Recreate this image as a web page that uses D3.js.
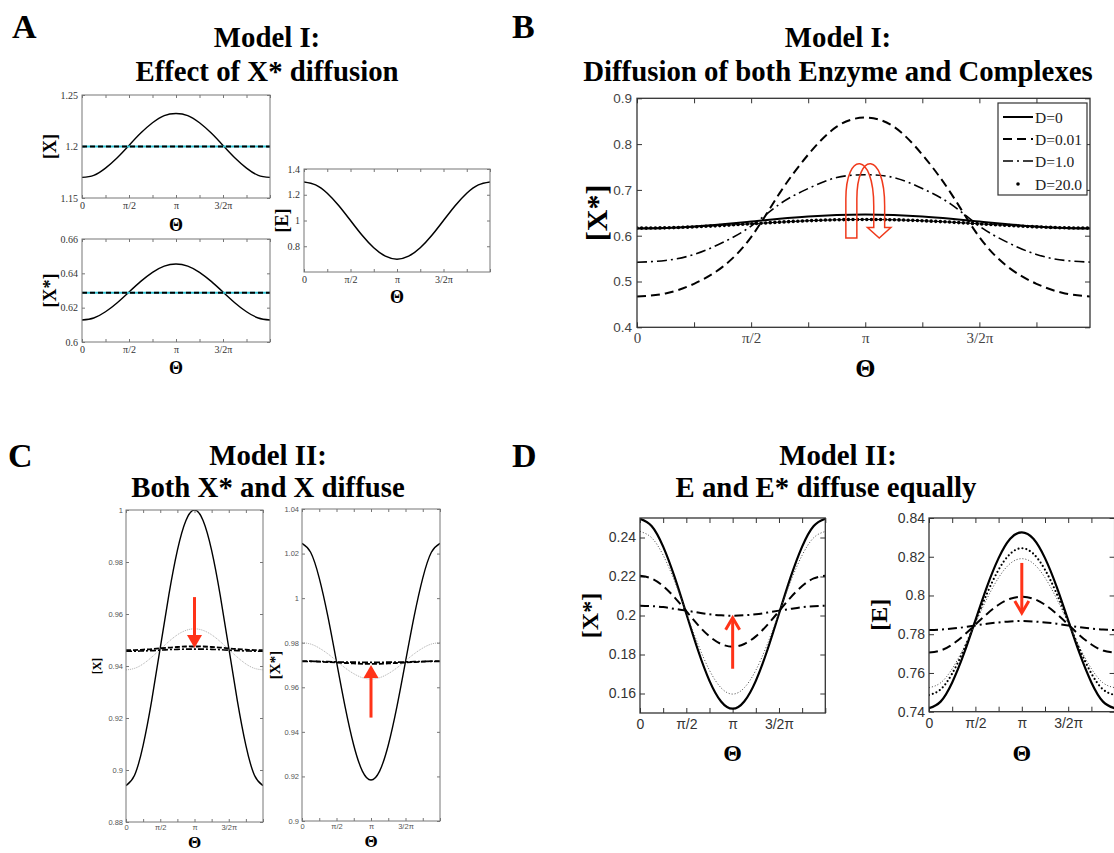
<!DOCTYPE html>
<html>
<head>
<meta charset="utf-8">
<script src="https://cdn.jsdelivr.net/npm/d3@7/dist/d3.min.js"></script>
<style>
  html, body { margin: 0; padding: 0; background: #fff; }
  svg { display: block; }
</style>
</head>
<body>
<svg id="fig" width="1114" height="853"></svg>
<script>
const PI = Math.PI;

// Angular grid: 0 .. 2π in steps of π/8
const theta = d3.range(17).map(i => i * PI / 8);
const thetaTicks = d3.range(9).map(i => i * PI / 4);
const thetaTickLabels = ["0", "", "π/2", "", "π", "", "3/2π", "", ""];

// ---- Panel A: Model I, effect of X* diffusion ----
const aXNoDiff  = [1.170, 1.172, 1.179, 1.189, 1.201, 1.213, 1.223, 1.230, 1.232, 1.230, 1.223, 1.213, 1.201, 1.189, 1.179, 1.172, 1.170];
const aXDiff    = [1.200, 1.200, 1.200, 1.200, 1.200, 1.200, 1.200, 1.200, 1.200, 1.200, 1.200, 1.200, 1.200, 1.200, 1.200, 1.200, 1.200];
const aXsNoDiff = [0.6128, 0.6140, 0.6176, 0.6229, 0.6291, 0.6353, 0.6406, 0.6442, 0.6454, 0.6442, 0.6406, 0.6353, 0.6291, 0.6229, 0.6176, 0.6140, 0.6128];
const aXsDiff   = [0.6287, 0.6287, 0.6287, 0.6287, 0.6287, 0.6287, 0.6287, 0.6287, 0.6287, 0.6287, 0.6287, 0.6287, 0.6287, 0.6287, 0.6287, 0.6287, 0.6287];
const aE        = [1.300, 1.277, 1.212, 1.115, 1.000, 0.885, 0.788, 0.723, 0.700, 0.723, 0.788, 0.885, 1.000, 1.115, 1.212, 1.277, 1.300];
const aXTicks  = [1.15, 1.2, 1.25];
const aXsTicks = [0.6, 0.62, 0.64, 0.66];
const aETicks  = [0.8, 1, 1.2, 1.4];

// ---- Panel B: Model I, diffusion of enzyme and complexes ----
const bLabels = ["D=0", "D=0.01", "D=1.0", "D=20.0"];
const bD0   = [0.6155, 0.6167, 0.6200, 0.6251, 0.6310, 0.6369, 0.6420, 0.6453, 0.6465, 0.6453, 0.6420, 0.6369, 0.6310, 0.6251, 0.6200, 0.6167, 0.6155];
const bD001 = [0.467, 0.474, 0.495, 0.532, 0.597, 0.693, 0.777, 0.838, 0.858, 0.838, 0.777, 0.693, 0.597, 0.532, 0.495, 0.474, 0.467];
const bD1   = [0.542, 0.546, 0.559, 0.585, 0.621, 0.669, 0.703, 0.727, 0.733, 0.727, 0.703, 0.669, 0.621, 0.585, 0.559, 0.546, 0.542];
const bD20  = [0.6165, 0.6172, 0.6193, 0.6224, 0.6260, 0.6296, 0.6327, 0.6348, 0.6355, 0.6348, 0.6327, 0.6296, 0.6260, 0.6224, 0.6193, 0.6172, 0.6165];
const bTicks = [0.4, 0.5, 0.6, 0.7, 0.8, 0.9];

// ---- Panel C: Model II, both X* and X diffuse ----
const cXSolid   = [0.894, 0.898, 0.9095, 0.9267, 0.947, 0.9673, 0.9845, 0.996, 1.0, 0.996, 0.9845, 0.9673, 0.947, 0.9267, 0.9095, 0.898, 0.894];
const cXDotted  = [0.9385, 0.9391, 0.9408, 0.9434, 0.9464, 0.9494, 0.9520, 0.9537, 0.9543, 0.9537, 0.9520, 0.9494, 0.9464, 0.9434, 0.9408, 0.9391, 0.9385];
const cXDashed  = [0.9461, 0.9461, 0.9463, 0.9465, 0.9468, 0.9471, 0.9473, 0.9475, 0.9475, 0.9475, 0.9473, 0.9471, 0.9468, 0.9465, 0.9463, 0.9461, 0.9461];
const cXDashDot = [0.9457, 0.9457, 0.9458, 0.9459, 0.9461, 0.9463, 0.9464, 0.9465, 0.9465, 0.9465, 0.9464, 0.9463, 0.9461, 0.9459, 0.9458, 0.9457, 0.9457];
const cXsSolid   = [1.0246, 1.0206, 1.0090, 0.9918, 0.9715, 0.9512, 0.9340, 0.9224, 0.9184, 0.9224, 0.9340, 0.9512, 0.9715, 0.9918, 1.0090, 1.0206, 1.0246];
const cXsDotted  = [0.9800, 0.9794, 0.9776, 0.9750, 0.9719, 0.9687, 0.9661, 0.9643, 0.9637, 0.9643, 0.9661, 0.9687, 0.9719, 0.9750, 0.9776, 0.9794, 0.9800];
const cXsDashed  = [0.9717, 0.9717, 0.9715, 0.9713, 0.9711, 0.9709, 0.9707, 0.9705, 0.9705, 0.9705, 0.9707, 0.9709, 0.9711, 0.9713, 0.9715, 0.9717, 0.9717];
const cXsDashDot = [0.9716, 0.9716, 0.9716, 0.9715, 0.9714, 0.9713, 0.9713, 0.9712, 0.9712, 0.9712, 0.9713, 0.9713, 0.9714, 0.9715, 0.9716, 0.9716, 0.9716];
const cXTicks  = [0.88, 0.9, 0.92, 0.94, 0.96, 0.98, 1];
const cXsTicks = [0.9, 0.92, 0.94, 0.96, 0.98, 1, 1.02, 1.04];

// ---- Panel D: Model II, E and E* diffuse equally ----
const dXsSolid   = [0.2496, 0.2459, 0.2353, 0.2195, 0.2009, 0.1823, 0.1665, 0.1559, 0.1522, 0.1559, 0.1665, 0.1823, 0.2009, 0.2195, 0.2353, 0.2459, 0.2496];
const dXsDotted  = [0.2431, 0.2399, 0.2309, 0.2174, 0.2014, 0.1854, 0.1719, 0.1629, 0.1597, 0.1629, 0.1719, 0.1854, 0.2014, 0.2174, 0.2309, 0.2399, 0.2431];
const dXsDashed  = [0.2204, 0.2190, 0.2151, 0.2092, 0.2022, 0.1952, 0.1893, 0.1854, 0.1840, 0.1854, 0.1893, 0.1952, 0.2022, 0.2092, 0.2151, 0.2190, 0.2204];
const dXsDashDot = [0.2050, 0.2048, 0.2043, 0.2034, 0.2025, 0.2015, 0.2006, 0.2001, 0.1999, 0.2001, 0.2006, 0.2015, 0.2025, 0.2034, 0.2043, 0.2048, 0.2050];
const dESolid    = [0.7418, 0.7452, 0.7551, 0.7698, 0.7872, 0.8046, 0.8193, 0.8293, 0.8326, 0.8293, 0.8193, 0.8046, 0.7872, 0.7698, 0.7551, 0.7452, 0.7418];
const dEBoldDot  = [0.7486, 0.7515, 0.7597, 0.7720, 0.7865, 0.8010, 0.8133, 0.8215, 0.8244, 0.8215, 0.8133, 0.8010, 0.7865, 0.7720, 0.7597, 0.7515, 0.7486];
const dEThinDot  = [0.7524, 0.7549, 0.7622, 0.7730, 0.7857, 0.7984, 0.8092, 0.8165, 0.8190, 0.8165, 0.8092, 0.7984, 0.7857, 0.7730, 0.7622, 0.7549, 0.7524];
const dEDashed   = [0.7705, 0.7716, 0.7747, 0.7794, 0.7850, 0.7905, 0.7952, 0.7983, 0.7994, 0.7983, 0.7952, 0.7905, 0.7850, 0.7794, 0.7747, 0.7716, 0.7705];
const dEDashDot  = [0.7822, 0.7824, 0.7829, 0.7836, 0.7845, 0.7854, 0.7861, 0.7866, 0.7868, 0.7866, 0.7861, 0.7854, 0.7845, 0.7836, 0.7829, 0.7824, 0.7822];
const dXsTicks = [0.16, 0.18, 0.2, 0.22, 0.24];
const dETicks  = [0.74, 0.76, 0.78, 0.8, 0.82, 0.84];

// ------------------------------------------------------------------
const SERIF = "'Liberation Serif', 'Times New Roman', serif";
const SANS  = "'Liberation Sans', Arial, sans-serif";
const RED = "#ff3318";

const svg = d3.select("#fig");
svg.append("rect").attr("width", 1114).attr("height", 853).attr("fill", "#fff");
const defs = svg.append("defs");
let clipSeq = 0;

const thetaFmt = d => thetaTickLabels[Math.round(d / (PI / 4))];

function drawPlot(cfg) {
  const g = svg.append("g");
  const x = d3.scaleLinear().domain([0, 2 * PI]).range([cfg.left, cfg.right2pi ?? cfg.right]);
  const y = d3.scaleLinear().domain(cfg.yDomain).range([cfg.bottom, cfg.top]);
  const tk = cfg.tick;

  const id = "plotclip" + (clipSeq++);
  defs.append("clipPath").attr("id", id).append("rect")
    .attr("x", cfg.left).attr("y", cfg.top)
    .attr("width", cfg.right - cfg.left).attr("height", cfg.bottom - cfg.top);

  const xt = thetaTicks.filter(t => x(t) <= cfg.right + 1);
  const axes = [
    g.append("g").attr("transform", `translate(0,${cfg.bottom})`)
      .call(d3.axisBottom(x).tickValues(xt).tickSize(-tk.len).tickPadding(tk.xPad).tickFormat(thetaFmt)),
    g.append("g").attr("transform", `translate(0,${cfg.top})`)
      .call(d3.axisTop(x).tickValues(xt).tickSize(-tk.len).tickFormat("")),
    g.append("g").attr("transform", `translate(${cfg.left},0)`)
      .call(d3.axisLeft(y).tickValues(cfg.yTicks).tickSize(-tk.len).tickPadding(tk.yPad).tickFormat(d3.format("~g"))),
    g.append("g").attr("transform", `translate(${cfg.right},0)`)
      .call(d3.axisRight(y).tickValues(cfg.yTicks).tickSize(-tk.len).tickFormat(""))
  ];
  axes.forEach(a => {
    a.select(".domain").remove();
    a.selectAll(".tick line").attr("stroke", cfg.frameColor).attr("stroke-width", 1);
    a.selectAll("text").attr("font-family", tk.font).attr("font-size", tk.size).attr("fill", tk.color);
  });
  if (tk.xFont) axes[0].selectAll("text").attr("font-family", tk.xFont).attr("font-size", tk.xSize);

  const area = g.append("g").attr("clip-path", `url(#${id})`);
  const line = d3.line().x((d, i) => x(theta[i])).y(d => y(d)).curve(d3.curveNatural);
  cfg.series.forEach(s => {
    area.append("path").datum(s.values)
      .attr("d", line)
      .attr("fill", "none")
      .attr("stroke", s.color || "#000")
      .attr("stroke-width", s.width)
      .attr("stroke-dasharray", s.dash || null)
      .attr("stroke-linecap", s.cap || "butt");
  });

  g.append("rect")
    .attr("x", cfg.left).attr("y", cfg.top)
    .attr("width", cfg.right - cfg.left)
    .attr("height", cfg.bottom - cfg.top)
    .attr("fill", "none").attr("stroke", cfg.frameColor).attr("stroke-width", cfg.frameWidth);

  g.append("text")
    .attr("transform", `translate(${cfg.ylabel.x},${(cfg.top + cfg.bottom) / 2}) rotate(-90)`)
    .attr("text-anchor", "middle").attr("dominant-baseline", "central")
    .attr("font-family", SERIF).attr("font-weight", "bold").attr("font-size", cfg.ylabel.size)
    .text(cfg.ylabel.text);

  g.append("text")
    .attr("x", x(PI)).attr("y", cfg.thetaLabel.y)
    .attr("text-anchor", "middle").attr("dominant-baseline", "central")
    .attr("font-family", SERIF).attr("font-weight", "bold").attr("font-size", cfg.thetaLabel.size)
    .text("Θ");

  return { x, y, g };
}

function straightArrow(plot, value0, value1, kind) {
  const cx = plot.x(PI), y0 = plot.y(value0), y1 = plot.y(value1);
  const dir = Math.sign(y1 - y0);
  const g = plot.g.append("g");
  if (kind === "filled") {
    const headLen = 13, hw = 7.5;
    g.append("line").attr("x1", cx).attr("x2", cx).attr("y1", y0).attr("y2", y1 - dir * (headLen - 1))
      .attr("stroke", RED).attr("stroke-width", 3);
    g.append("path")
      .attr("d", `M${cx - hw},${y1 - dir * headLen} L${cx + hw},${y1 - dir * headLen} L${cx},${y1} Z`)
      .attr("fill", RED);
  } else {
    g.append("line").attr("x1", cx).attr("x2", cx).attr("y1", y0).attr("y2", y1 - dir * 1.5)
      .attr("stroke", RED).attr("stroke-width", 3);
    g.append("path")
      .attr("d", `M${cx - 7},${y1 - dir * 12} L${cx},${y1} L${cx + 7},${y1 - dir * 12}`)
      .attr("fill", "none").attr("stroke", RED).attr("stroke-width", 3).attr("stroke-linejoin", "miter");
  }
}

// ---------------- Panel A ----------------
const tickA = { len: 3, font: SERIF, size: 10, color: "#333", xPad: 4, yPad: 4 };
drawPlot({
  left: 82, right: 270, top: 95, bottom: 198, yDomain: [1.15, 1.25], yTicks: aXTicks,
  tick: tickA, frameColor: "#777", frameWidth: 1,
  ylabel: { text: "[X]", x: 50, size: 18 }, thetaLabel: { y: 225, size: 18 },
  series: [
    { values: aXNoDiff, width: 1.4 },
    { values: aXDiff, width: 2, color: "#33c6d6" },
    { values: aXDiff, width: 2, dash: "5,3" }
  ]
});
drawPlot({
  left: 82, right: 270, top: 239, bottom: 342, yDomain: [0.6, 0.66], yTicks: aXsTicks,
  tick: tickA, frameColor: "#777", frameWidth: 1,
  ylabel: { text: "[X*]", x: 50, size: 18 }, thetaLabel: { y: 368, size: 18 },
  series: [
    { values: aXsNoDiff, width: 1.4 },
    { values: aXsDiff, width: 2, color: "#33c6d6" },
    { values: aXsDiff, width: 2, dash: "5,3" }
  ]
});
drawPlot({
  left: 304, right: 490, top: 169, bottom: 272, yDomain: [0.6, 1.4], yTicks: aETicks,
  tick: tickA, frameColor: "#777", frameWidth: 1,
  ylabel: { text: "[E]", x: 282, size: 18 }, thetaLabel: { y: 297, size: 18 },
  series: [ { values: aE, width: 1.5 } ]
});

// ---------------- Panel B ----------------
const plotB = drawPlot({
  left: 637, right: 1090, right2pi: 1093.5, top: 98.3, bottom: 327.3, yDomain: [0.4, 0.9], yTicks: bTicks,
  tick: { len: 5, font: SANS, size: 13.5, color: "#444", xPad: 5, yPad: 5, xFont: SERIF, xSize: 15 },
  frameColor: "#333", frameWidth: 1.3,
  ylabel: { text: "[X*]", x: 596, size: 30 }, thetaLabel: { y: 368, size: 26 },
  series: [
    { values: bD0, width: 2 },
    { values: bD001, width: 2, dash: "9,5" },
    { values: bD1, width: 1.6, dash: "10,4,2,4" },
    { values: bD20, width: 1 },
    { values: bD20, width: 3.6, dash: "0,4.6", cap: "round" }
  ]
});

// U-turn arrow near the peak of panel B
(function () {
  const cx = plotB.x(PI);
  const yb = plotB.y(0.595), yl = plotB.y(0.68), ys = plotB.y(0.665), yh = plotB.y(0.618);
  const peak = plotB.y(0.757);
  const Y = (peak - 0.125 * (yl + ys)) / 0.75;
  const oL = cx - 19.4, iL = cx - 8.4, iR = cx + 8.5, oR = cx + 19.4;
  const d = `M${oL},${yb} L${oL},${yl} C${oL},${Y} ${iR},${Y} ${iR},${ys} L${iR},${yh} ` +
            `L${cx + 2.2},${yh} L${cx + 14},${yb} L${cx + 25.6},${yh} L${oR},${yh} L${oR},${ys} ` +
            `C${oR},${Y} ${iL},${Y} ${iL},${yl} L${iL},${yb} Z`;
  plotB.g.append("path").attr("d", d).attr("fill", "none")
    .attr("stroke", "#f03a1c").attr("stroke-width", 1.5).attr("stroke-linejoin", "miter");
})();

// legend of panel B
(function () {
  const lg = plotB.g.append("g");
  lg.append("rect").attr("x", 998).attr("y", 103).attr("width", 89).attr("height", 92)
    .attr("fill", "#fff").attr("stroke", "#333").attr("stroke-width", 1.2);
  const styles = [
    { dash: null, width: 2 },
    { dash: "9,5", width: 2 },
    { dash: "10,4,2,4", width: 1.6 },
    { dot: true }
  ];
  const rowY = [117, 139, 161, 184];
  bLabels.forEach((lab, i) => {
    const s = styles[i];
    if (s.dot) {
      lg.append("circle").attr("cx", 1018).attr("cy", rowY[i]).attr("r", 1.8).attr("fill", "#000");
    } else {
      lg.append("line").attr("x1", 1003).attr("x2", 1033).attr("y1", rowY[i]).attr("y2", rowY[i])
        .attr("stroke", "#000").attr("stroke-width", s.width).attr("stroke-dasharray", s.dash);
    }
    lg.append("text").attr("x", 1035).attr("y", rowY[i]).attr("dominant-baseline", "central")
      .attr("font-family", SERIF).attr("font-size", 15.5).attr("fill", "#222").text(lab);
  });
})();

// ---------------- Panel C ----------------
const tickC = { len: 3, font: SANS, size: 7.5, color: "#555", xPad: 3, yPad: 3 };
const plotC1 = drawPlot({
  left: 126, right: 263, top: 510, bottom: 822, yDomain: [0.88, 1.0], yTicks: cXTicks,
  tick: tickC, frameColor: "#777", frameWidth: 1,
  ylabel: { text: "[X]", x: 97, size: 12 }, thetaLabel: { y: 842, size: 17 },
  series: [
    { values: cXSolid, width: 1.4 },
    { values: cXDotted, width: 0.8, color: "#999", dash: "1,1" },
    { values: cXDashed, width: 1.8, dash: "5,2" },
    { values: cXDashDot, width: 1.6, dash: "6,2,2,2" }
  ]
});
straightArrow(plotC1, 0.9665, 0.9469, "filled");

const plotC2 = drawPlot({
  left: 302, right: 440, top: 509, bottom: 821, yDomain: [0.9, 1.04], yTicks: cXsTicks,
  tick: tickC, frameColor: "#777", frameWidth: 1,
  ylabel: { text: "[X*]", x: 275, size: 15 }, thetaLabel: { y: 841, size: 17 },
  series: [
    { values: cXsSolid, width: 1.4 },
    { values: cXsDotted, width: 0.8, color: "#999", dash: "1,1" },
    { values: cXsDashed, width: 1.8, dash: "5,2" },
    { values: cXsDashDot, width: 1.6, dash: "6,2,2,2" }
  ]
});
straightArrow(plotC2, 0.9464, 0.970, "filled");

// ---------------- Panel D ----------------
const tickD = { len: 5, font: SANS, size: 14, color: "#333", xPad: 6, yPad: 4 };
const plotD1 = drawPlot({
  left: 640, right: 825.3, top: 518, bottom: 713, yDomain: [0.15, 0.25], yTicks: dXsTicks,
  tick: tickD, frameColor: "#333", frameWidth: 1.3,
  ylabel: { text: "[X*]", x: 590, size: 24 }, thetaLabel: { y: 753, size: 24 },
  series: [
    { values: dXsSolid, width: 2.2 },
    { values: dXsDotted, width: 1, color: "#444", dash: "1,2" },
    { values: dXsDashed, width: 2, dash: "9,5" },
    { values: dXsDashDot, width: 2, dash: "9,4,2,4" }
  ]
});
straightArrow(plotD1, 0.1727, 0.1989, "chevron");

const plotD2 = drawPlot({
  left: 929, right: 1114.6, top: 518, bottom: 711.7, yDomain: [0.74, 0.84], yTicks: dETicks,
  tick: tickD, frameColor: "#333", frameWidth: 1.3,
  ylabel: { text: "[E]", x: 879, size: 24 }, thetaLabel: { y: 753, size: 24 },
  series: [
    { values: dESolid, width: 2.2 },
    { values: dEBoldDot, width: 2.2, dash: "0,4", cap: "round" },
    { values: dEThinDot, width: 1, color: "#444", dash: "1,2" },
    { values: dEDashed, width: 2, dash: "9,5" },
    { values: dEDashDot, width: 2, dash: "9,4,2,4" }
  ]
});
straightArrow(plotD2, 0.8168, 0.791, "chevron");

// ---------------- Panel letters and titles ----------------
const headings = [
  { letter: "A", lx: 12, ly: 38, lines: [["Model I:", 267, 47], ["Effect of X* diffusion", 267, 81]] },
  { letter: "B", lx: 512, ly: 38, lines: [["Model I:", 838, 47], ["Diffusion of both Enzyme and Complexes", 838, 81]] },
  { letter: "C", lx: 8, ly: 467, lines: [["Model II:", 268, 465], ["Both X* and X diffuse", 268, 497]] },
  { letter: "D", lx: 512, ly: 467, lines: [["Model II:", 838, 465], ["E and E* diffuse equally", 826, 497]] }
];
headings.forEach(h => {
  svg.append("text").attr("x", h.lx).attr("y", h.ly)
    .attr("font-family", SERIF).attr("font-weight", "bold").attr("font-size", 34).text(h.letter);
  h.lines.forEach(([t, x, y]) => {
    svg.append("text").attr("x", x).attr("y", y).attr("text-anchor", "middle")
      .attr("font-family", SERIF).attr("font-weight", "bold").attr("font-size", 28.8).text(t);
  });
});
</script>
</body>
</html>
